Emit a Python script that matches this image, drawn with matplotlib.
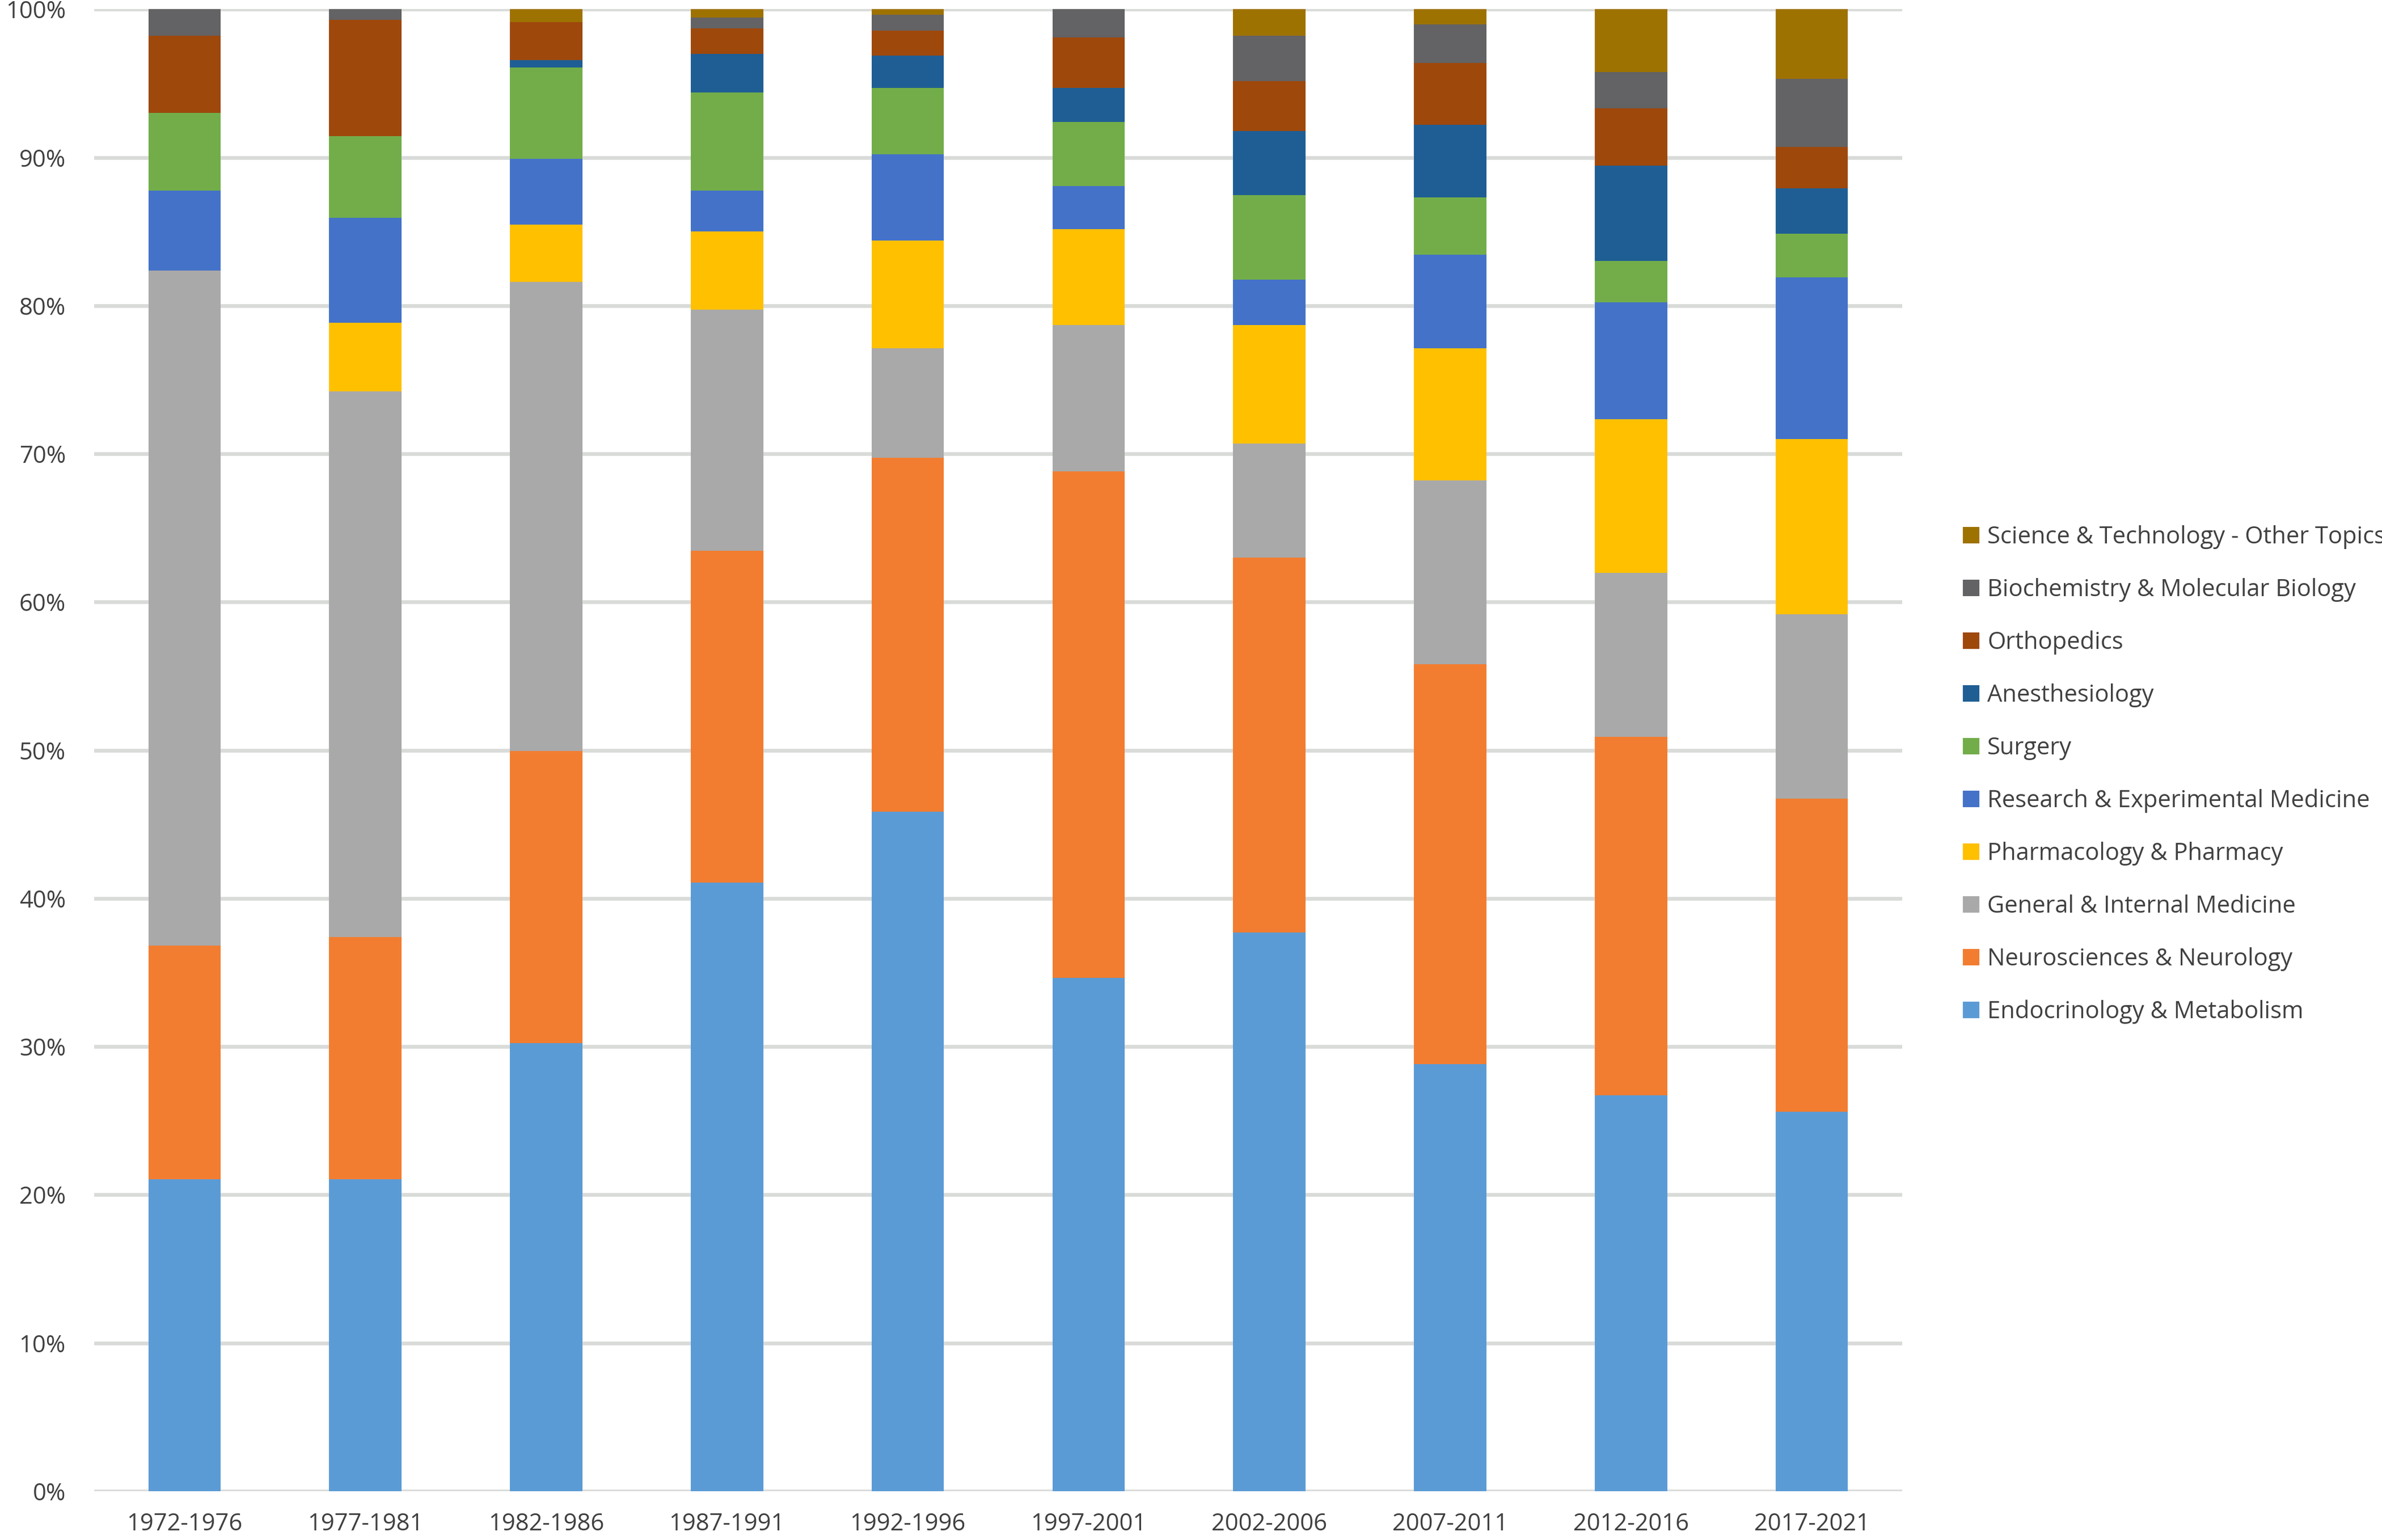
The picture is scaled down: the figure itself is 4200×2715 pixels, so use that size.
import numpy as np
import matplotlib.pyplot as plt
from matplotlib.ticker import PercentFormatter

periods = ["1972-1976", "1977-1981", "1982-1986", "1987-1991", "1992-1996",
           "1997-2001", "2002-2006", "2007-2011", "2012-2016", "2017-2021"]

# shares in %, bottom to top of each stack
endocrinology = [21.03, 21.03, 30.22, 41.08, 45.86, 34.63, 37.71, 28.82, 26.70, 25.60]
neurosciences = [15.77, 16.38, 19.74, 22.39, 23.88, 34.20, 25.29, 26.97, 24.20, 21.13]
general_med = [45.57, 36.79, 31.65, 16.27, 7.39, 9.87, 7.68, 12.40, 11.05, 12.43]
pharmacology = [0.00, 4.63, 3.85, 5.26, 7.25, 6.45, 8.02, 8.94, 10.40, 11.84]
research_exp = [5.39, 7.09, 4.46, 2.76, 5.85, 2.92, 3.07, 6.32, 7.87, 10.91]
surgery = [5.24, 5.53, 6.15, 6.63, 4.47, 4.31, 5.68, 3.85, 2.78, 2.93]
anesthesiology = [0.00, 0.00, 0.48, 2.61, 2.16, 2.32, 4.33, 4.92, 6.46, 3.07]
orthopedics = [5.23, 7.85, 2.59, 1.71, 1.68, 3.39, 3.36, 4.16, 3.84, 2.79]
biochemistry = [1.77, 0.70, 0.00, 0.74, 1.07, 1.91, 3.09, 2.61, 2.46, 4.60]
sci_tech = [0.00, 0.00, 0.86, 0.55, 0.39, 0.00, 1.77, 1.01, 4.24, 4.70]

series = [
    ("Endocrinology & Metabolism", endocrinology, "#5B9BD5"),
    ("Neurosciences & Neurology", neurosciences, "#F27D31"),
    ("General & Internal Medicine", general_med, "#A9A9A9"),
    ("Pharmacology & Pharmacy", pharmacology, "#FFC000"),
    ("Research & Experimental Medicine", research_exp, "#4472C8"),
    ("Surgery", surgery, "#72AD4A"),
    ("Anesthesiology", anesthesiology, "#1F5E94"),
    ("Orthopedics", orthopedics, "#9E480C"),
    ("Biochemistry & Molecular Biology", biochemistry, "#636264"),
    ("Science & Technology - Other Topics", sci_tech, "#9E7200"),
]

plt.rcParams['font.family'] = ['Open Sans', 'DejaVu Sans']

fig = plt.figure(figsize=(14, 9.05), dpi=300)
ax = fig.add_axes([0.0395, 0.0317, 0.7591, 0.9623])

x = np.arange(len(periods))
bottom = np.zeros(len(periods))
handles = []
for name, vals, color in series:
    vals = np.array(vals)
    b = ax.bar(x, vals, 0.4, bottom=bottom, color=color, label=name, zorder=3)
    handles.append(b)
    bottom += vals

ax.set_xlim(-0.5, 9.5)
ax.set_ylim(0, 100)
ax.set_yticks(np.arange(0, 101, 10))
ax.yaxis.set_major_formatter(PercentFormatter(decimals=0))
ax.set_xticks(x)
ax.set_xticklabels(periods)
ax.tick_params(axis='both', length=0, labelsize=10, colors="#404040")
ax.tick_params(axis='y', pad=12)
ax.tick_params(axis='x', pad=9)
ax.grid(axis='y', color="#D9DBD9", linewidth=1.6, zorder=0)
for s in ax.spines.values():
    s.set_visible(False)

fig.legend(handles[::-1], [s[0] for s in series][::-1],
           loc='center left', bbox_to_anchor=(0.815, 0.497),
           frameon=False, fontsize=10, labelcolor="#404040",
           handlelength=0.7, handleheight=0.7, handletextpad=0.35,
           labelspacing=1.22)

fig.savefig("out.png", dpi=300)
